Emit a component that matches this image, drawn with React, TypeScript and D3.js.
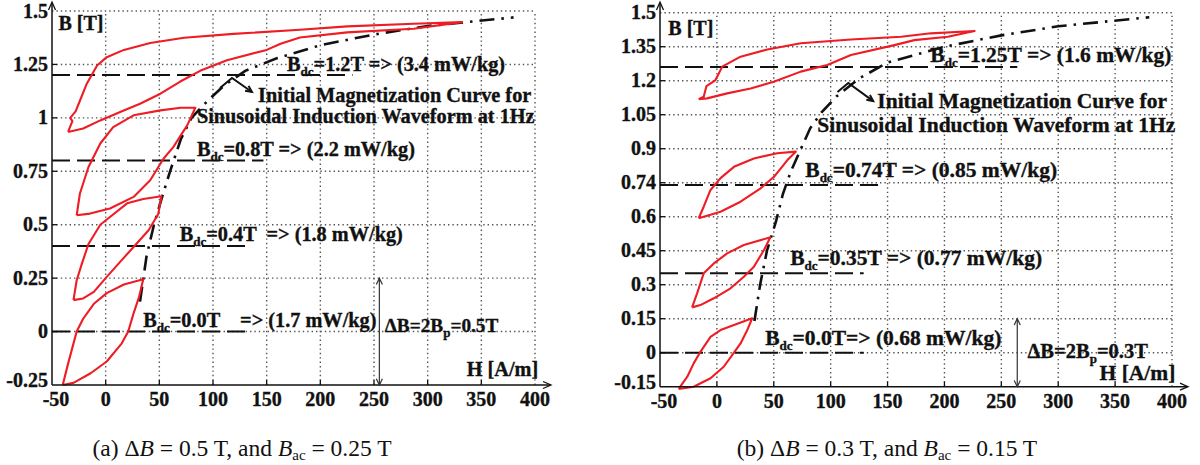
import React from "react";
import * as d3 from "d3";

type Pt = [number, number];

// ---------- axis ticks ----------
const hTicks = [-50, 0, 50, 100, 150, 200, 250, 300, 350, 400];
const hTickLabels = ["-50", "0", "50", "100", "150", "200", "250", "300", "350", "400"];
const bTicksA = [-0.25, 0, 0.25, 0.5, 0.75, 1, 1.25, 1.5];
const bTickLabelsA = ["-0.25", "0", "0.25", "0.5", "0.75", "1", "1.25", "1.5"];
const bTicksB = [-0.15, 0, 0.15, 0.3, 0.45, 0.6, 0.75, 0.9, 1.05, 1.2, 1.35, 1.5];
const bTickLabelsB = ["-0.15", "0", "0.15", "0.3", "0.45", "0.6", "0.74", "0.9", "1.05", "1.2", "1.35", "1.5"];

// ---------- panel (a): minor loops [H, B] ----------
const loopA0: Pt[] = [[-40, -0.25], [-35, -0.15], [-27, 0], [-21, 0.06], [-11, 0.13], [1, 0.18], [17, 0.22], [35, 0.245], [31, 0.16], [26, 0.085], [21, 0], [15, -0.055], [1, -0.14], [-14, -0.195], [-30, -0.24], [-40, -0.25]];
const loopA1: Pt[] = [[-30, 0.147], [-27, 0.24], [-22, 0.32], [-16, 0.41], [-5, 0.5], [4, 0.536], [20, 0.6], [35, 0.62], [52, 0.633], [49, 0.55], [40, 0.474], [26, 0.396], [13.5, 0.326], [1, 0.256], [-11, 0.186], [-21, 0.155], [-30, 0.147]];
const loopA2: Pt[] = [[-27, 0.544], [-24, 0.646], [-16, 0.77], [-5, 0.88], [7, 0.957], [26, 1.012], [51, 1.035], [70, 1.047], [83.5, 1.047], [76, 0.965], [71, 0.926], [63, 0.863], [54, 0.81], [41.5, 0.708], [26, 0.63], [4, 0.576], [-14.5, 0.552], [-27, 0.544]];
const loopA3: Pt[] = [[-35, 0.934], [-31, 0.985], [-33, 1.0], [-28, 1.03], [-24, 1.08], [-17.6, 1.16], [-8, 1.245], [1, 1.284], [17, 1.318], [41.5, 1.35], [73, 1.375], [119, 1.393], [181, 1.412], [225, 1.428], [287, 1.44], [332, 1.448], [287, 1.417], [225, 1.4], [181, 1.376], [163, 1.347], [150, 1.318], [113, 1.27], [88, 1.22], [69.5, 1.17], [51, 1.113], [32, 1.066], [13.5, 1.027], [-5, 0.988], [-21, 0.95], [-35, 0.934]];
const initA: Pt[] = [[32, 0.14], [38, 0.35], [45, 0.5], [52, 0.62], [60, 0.75], [70, 0.9], [80, 1.0], [95, 1.08], [110, 1.15], [130, 1.22], [160, 1.28], [200, 1.34], [250, 1.39], [300, 1.43], [380, 1.47]];
const bdcA = [1.2, 0.8, 0.4, 0.0];
const bdcEndA = [230, 147, 130, 130];
const bdcLabelA = ["1.2T", "0.8T", "0.4T", "0.0T"];
const lossLabelA = ["=> (3.4 mW/kg)", "=> (2.2 mW/kg)", "=> (1.8 mW/kg)", "=> (1.7 mW/kg)"];

// ---------- panel (b): minor loops [H, B] ----------
const loopB0: Pt[] = [[-33.6, -0.16], [-26, -0.106], [-20.4, -0.047], [-14.5, 0.004], [-5.6, 0.07], [3.2, 0.1], [15, 0.122], [31, 0.152], [26.7, 0.1], [20.8, 0.041], [15, 0], [6, -0.062], [-5.6, -0.113], [-20.4, -0.15], [-33.6, -0.16]];
const loopB1: Pt[] = [[-21.8, 0.2], [-17.4, 0.262], [-11.6, 0.35], [-2.7, 0.394], [9, 0.438], [23.7, 0.475], [47, 0.509], [41.4, 0.453], [32.5, 0.379], [23.7, 0.335], [12, 0.284], [-2.7, 0.24], [-14.5, 0.21], [-21.8, 0.2]];
const loopB2: Pt[] = [[-16, 0.593], [-11.6, 0.644], [-5.6, 0.718], [3.2, 0.77], [15, 0.82], [32.5, 0.857], [53, 0.88], [69.3, 0.887], [62, 0.85], [50.2, 0.776], [38.4, 0.725], [20.8, 0.666], [3.2, 0.622], [-16, 0.593]];
const loopB3: Pt[] = [[-16, 1.118], [-11.6, 1.129], [-9.2, 1.176], [-1.2, 1.203], [4.7, 1.262], [20.8, 1.306], [44.4, 1.338], [73.7, 1.365], [117.8, 1.382], [162, 1.394], [188, 1.409], [226.5, 1.419], [203, 1.394], [173.6, 1.379], [156, 1.357], [117.8, 1.313], [97, 1.269], [73.7, 1.24], [50, 1.195], [29.6, 1.166], [9, 1.144], [-8.6, 1.122], [-16, 1.118]];
const initB: Pt[] = [[33, 0.14], [38, 0.3], [44, 0.45], [52, 0.58], [58, 0.7], [65, 0.8], [73, 0.89], [82, 0.99], [92, 1.06], [105, 1.13], [125, 1.21], [150, 1.28], [200, 1.35], [250, 1.4], [300, 1.44], [380, 1.48]];
const bdcB = [1.26, 0.74, 0.35, 0.0];
const bdcEndB = [264, 146, 129, 129];
const bdcLabelB = ["1.25T", "0.74T", "0.35T", "0.0T"];
const lossLabelB = ["=> (1.6 mW/kg)", "=> (0.85 mW/kg)", "=> (0.77 mW/kg)", "=> (0.68 mW/kg)"];

const FONT = '"Liberation Serif", "Times New Roman", Times, serif';
const RED = "#ee1c24";
const INK = "#111";

type PanelCfg = {
  xr: [number, number];
  yd: [number, number];
  yr: [number, number];
  bTicks: number[];
  bLabels: string[];
  loops: Pt[][];
  init: Pt[];
  bdc: number[];
  bdcEnd: number[];
  bdcLabel: string[];
  lossLabel: string[];
  bdcText: Pt[];
  bdcGap: string[];
  initText: Pt[];
  caret: Pt[];
  dbArrow: [number, number, number];
  dbText: Pt;
  dbLabel: string;
  hLabel: Pt;
  bLabel: Pt;
  caption: string;
  capB: string;
  capAc: string;
  captionX: number;
  afs: number;
};

const panelA: PanelCfg = {
  xr: [52, 535],
  yd: [-0.25, 1.5],
  yr: [385, 11],
  bTicks: bTicksA,
  bLabels: bTickLabelsA,
  loops: [loopA0, loopA1, loopA2, loopA3],
  init: initA,
  bdc: bdcA,
  bdcEnd: bdcEndA,
  bdcLabel: bdcLabelA,
  lossLabel: lossLabelA,
  bdcText: [[169, 1.219], [85, 0.822], [69, 0.424], [35, 0.021]],
  bdcGap: [" ", " ", "  ", "    "],
  initText: [[142, 1.074], [85, 0.976]],
  caret: [[106.5, 1.14], [117.7, 1.187], [136.3, 1.121]],
  dbArrow: [255, -0.25, 0.25],
  dbText: [260, 0.0],
  dbLabel: "0.5T",
  hLabel: [403, -0.21],
  bLabel: [-44, 1.41],
  caption: "(a)",
  capB: "0.5 T, and ",
  capAc: "0.25 T",
  captionX: 242,
  afs: 20.3,
};

const panelB: PanelCfg = {
  xr: [660, 1172],
  yd: [-0.15, 1.5],
  yr: [386.7, 12.7],
  bTicks: bTicksB,
  bLabels: bTickLabelsB,
  loops: [loopB0, loopB1, loopB2, loopB3],
  init: initB,
  bdc: bdcB,
  bdcEnd: bdcEndB,
  bdcLabel: bdcLabelB,
  lossLabel: lossLabelB,
  bdcText: [[187.6, 1.282], [77.7, 0.775], [64.5, 0.387], [42.5, 0.034]],
  bdcGap: [" ", " ", " ", ""],
  initText: [[141, 1.079], [88.3, 0.975]],
  caret: [[106, 1.15], [115.5, 1.19], [137.4, 1.11]],
  dbArrow: [264, -0.15, 0.15],
  dbText: [273, -0.023],
  dbLabel: "0.3T",
  hLabel: [403, -0.12],
  bLabel: [-42.7, 1.4],
  caption: "(b)",
  capB: "0.3 T, and ",
  capAc: "0.15 T",
  captionX: 887,
  afs: 21.5,
};

function Panel({ p }: { p: PanelCfg }) {
  const x = d3.scaleLinear().domain([-50, 400]).range(p.xr);
  const y = d3.scaleLinear().domain(p.yd).range(p.yr);
  const line = d3.line<Pt>().x((d) => x(d[0])).y((d) => y(d[1]));
  const x0 = x(-50), x1 = x(400);
  const yb = y(p.yd[0]), yt = y(1.5);
  const fs = 20;
  const afs = p.afs;
  const sub = Math.round(afs * 0.62);
  const grid = "#555";
  const bold = { fontWeight: 700 as const, fill: INK, stroke: INK, strokeWidth: 0.35 };
  const caretPath = line(p.caret) || "";
  const ce = p.caret[2];
  const cp = p.caret[1];
  const ang = Math.atan2(y(ce[1]) - y(cp[1]), x(ce[0]) - x(cp[0]));
  const ah = 7;
  const arrowHead = (px: number, py: number, a: number) =>
    `M${px - ah * Math.cos(a - 0.45)},${py - ah * Math.sin(a - 0.45)}L${px},${py}L${px - ah * Math.cos(a + 0.45)},${py - ah * Math.sin(a + 0.45)}`;
  const dbx = x(p.dbArrow[0]);
  const dby0 = y(p.dbArrow[1]);
  const dby1 = y(p.dbArrow[2]);
  return (
    <g fontFamily={FONT}>
      {/* grid */}
      {hTicks.slice(1).map((h) => (
        <line key={"gx" + h} x1={x(h)} x2={x(h)} y1={yb} y2={yt} stroke={grid} strokeWidth={1.4} strokeDasharray="1.4,3" />
      ))}
      {p.bTicks.slice(1).map((b) => (
        <line key={"gy" + b} x1={x0} x2={x1} y1={y(b)} y2={y(b)} stroke={grid} strokeWidth={1.4} strokeDasharray="1.4,3" />
      ))}
      {/* Bdc dashed lines */}
      {p.bdc.map((b, i) => (
        <line key={"bd" + i} x1={x0} x2={x(p.bdcEnd[i])} y1={y(b)} y2={y(b)} stroke={INK} strokeWidth={2} strokeDasharray="18,7" />
      ))}
      {/* initial magnetization curve */}
      <path d={line(p.init) || ""} fill="none" stroke={INK} strokeWidth={2.6} strokeDasharray="15,7,2.5,7" />
      {/* loops */}
      {p.loops.map((l, i) => (
        <path key={"lp" + i} d={line(l) || ""} fill="none" stroke={RED} strokeWidth={2.1} strokeLinejoin="round" />
      ))}
      {/* axes */}
      <line x1={x0} x2={x0} y1={yb} y2={3} stroke={INK} strokeWidth={1.5} />
      <path d={`M${x0 - 3.5},${10}L${x0},${2}L${x0 + 3.5},${10}`} fill="none" stroke={INK} strokeWidth={1.3} />
      <line x1={x0} x2={x1 + 15} y1={yb} y2={yb} stroke={INK} strokeWidth={1.5} />
      <path d={`M${x1 + 8},${yb - 3.5}L${x1 + 16},${yb}L${x1 + 8},${yb + 3.5}`} fill="none" stroke={INK} strokeWidth={1.3} />
      {hTicks.slice(1, -1).map((h) => (
        <line key={"tx" + h} x1={x(h)} x2={x(h)} y1={yb} y2={yb - 5} stroke={INK} strokeWidth={1.3} />
      ))}
      {p.bTicks.slice(1, -1).map((b) => (
        <line key={"ty" + b} x1={x0} x2={x0 + 5} y1={y(b)} y2={y(b)} stroke={INK} strokeWidth={1.3} />
      ))}
      {/* tick labels */}
      {hTicks.map((h, i) => (
        <text key={"lx" + h} x={x(h) + (i === 0 ? 4 : 0)} y={yb + 21} textAnchor="middle" fontSize={fs} {...bold}>
          {hTickLabels[i]}
        </text>
      ))}
      {p.bTicks.map((b, i) => (
        <text key={"ly" + b} x={x0 - 4} y={y(b) + (i === 0 ? 2 : 6.5)} textAnchor="end" fontSize={fs} {...bold}>
          {p.bLabels[i]}
        </text>
      ))}
      {/* axis titles */}
      <text x={x(p.bLabel[0])} y={y(p.bLabel[1])} fontSize={fs} {...bold}>B [T]</text>
      <text x={x(p.hLabel[0])} y={y(p.hLabel[1])} fontSize={afs} textAnchor="end" {...bold}>H [A/m]</text>
      {/* Bdc labels */}
      {p.bdcText.map((t, i) => (
        <text key={"bt" + i} x={x(t[0])} y={y(t[1])} fontSize={afs} {...bold} style={{ whiteSpace: "pre" }}>
          B<tspan fontSize={sub} dy={5}>dc</tspan>
          <tspan dy={-5}>{"=" + p.bdcLabel[i] + p.bdcGap[i] + p.lossLabel[i]}</tspan>
        </text>
      ))}
      {/* initial curve label */}
      <text x={x(p.initText[0][0])} y={y(p.initText[0][1])} fontSize={afs} {...bold}>Initial Magnetization Curve for</text>
      <text x={x(p.initText[1][0])} y={y(p.initText[1][1])} fontSize={afs} {...bold}>Sinusoidal Induction Waveform at 1Hz</text>
      <path d={caretPath} fill="none" stroke={INK} strokeWidth={2} />
      <path d={arrowHead(x(ce[0]), y(ce[1]), ang)} fill="none" stroke={INK} strokeWidth={2} />
      {/* delta B arrow */}
      <line x1={dbx} x2={dbx} y1={dby0} y2={dby1} stroke="#333" strokeWidth={1.2} />
      <path d={arrowHead(dbx, dby1, -Math.PI / 2)} fill="none" stroke="#333" strokeWidth={1.2} />
      <path d={arrowHead(dbx, dby0, Math.PI / 2)} fill="none" stroke="#333" strokeWidth={1.2} />
      <text x={x(p.dbText[0])} y={y(p.dbText[1])} fontSize={afs - 1} {...bold}>
        ΔB=2B<tspan fontSize={sub} dy={5}>p</tspan>
        <tspan dy={-5}>{"=" + p.dbLabel}</tspan>
      </text>
      {/* caption */}
      <text x={p.captionX} y={456} fontSize={23.5} textAnchor="middle" fill={INK}>
        {p.caption} Δ<tspan fontStyle="italic">B</tspan>{" = " + p.capB}
        <tspan fontStyle="italic">B</tspan>
        <tspan fontSize={15} dy={4}>ac</tspan>
        <tspan dy={-4}>{" = " + p.capAc}</tspan>
      </text>
    </g>
  );
}

export default function App() {
  return (
    <svg width={1200} height={465} style={{ position: "absolute", left: 0, top: 0, background: "#fff" }}>
      <rect width={1200} height={465} fill="#fff" />
      <Panel p={panelA} />
      <Panel p={panelB} />
    </svg>
  );
}
